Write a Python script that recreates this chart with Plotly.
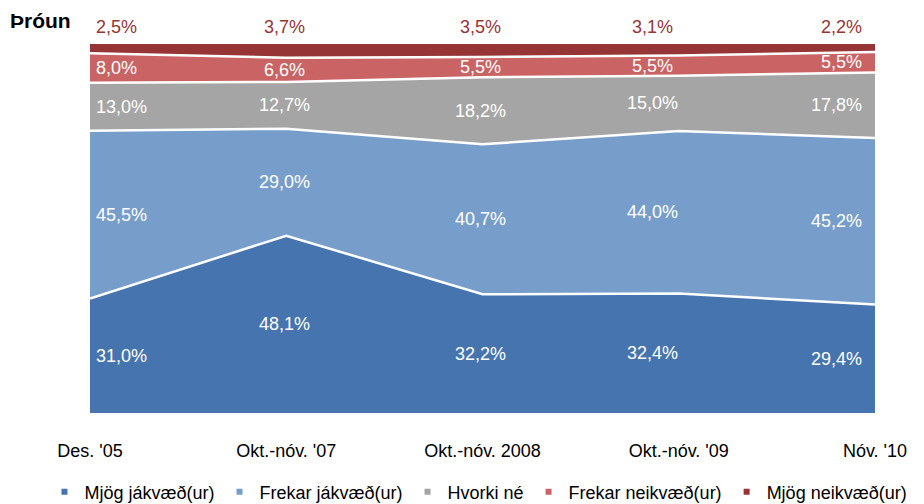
import plotly.graph_objects as go
import numpy as np

categories = ["Des. '05", "Okt.-nóv. '07", "Okt.-nóv. 2008", "Okt.-nóv. '09", "Nóv. '10"]
series_names = ["Mjög jákvæð(ur)", "Frekar jákvæð(ur)", "Hvorki né", "Frekar neikvæð(ur)", "Mjög neikvæð(ur)"]
mjog_jakv = [31.0, 48.1, 32.2, 32.4, 29.4]
frekar_jakv = [45.5, 29.0, 40.7, 44.0, 45.2]
hvorki = [13.0, 12.7, 18.2, 15.0, 17.8]
frekar_neikv = [8.0, 6.6, 5.5, 5.5, 5.5]
mjog_neikv = [2.5, 3.7, 3.5, 3.1, 2.2]

colors = ["#4674AE", "#779ECB", "#A5A5A5", "#C96364", "#963536"]
series = [mjog_jakv, frekar_jakv, hvorki, frekar_neikv, mjog_neikv]

FONT = "Liberation Sans, Arial, sans-serif"
x = list(range(len(categories)))

fig = go.Figure()
for i, (name, vals, col) in enumerate(zip(series_names, series, colors)):
    last = i == len(series) - 1
    fig.add_trace(go.Scatter(
        x=x, y=vals, name=name, stackgroup="one", groupnorm="percent",
        mode="lines", fillcolor=col,
        line=dict(color=col if last else "white", width=0 if last else 2.5),
        showlegend=False, hoverinfo="skip",
    ))
# legend entries with small square markers
for name, col in zip(series_names, colors):
    fig.add_trace(go.Scatter(
        x=[None], y=[None], mode="markers", name=name,
        marker=dict(symbol="square", size=6, color=col),
        showlegend=True,
    ))

# labels at band centres
arr = np.array(series, dtype=float)
arr = arr / arr.sum(axis=0) * 100
cum = np.cumsum(arr, axis=0)
col_anchor = ["left", "center", "center", "center", "right"]
col_shift = [4, -2, -2, -26, -11]
for i in range(len(series)):
    for j in range(len(categories)):
        lo = cum[i - 1, j] if i > 0 else 0.0
        hi = cum[i, j]
        txt = f"{series[i][j]:.1f}".replace(".", ",") + "%"
        if i == len(series) - 1:
            fig.add_annotation(x=x[j], y=100, text=txt, showarrow=False,
                               xanchor=col_anchor[j], xshift=col_shift[j],
                               yanchor="bottom", yshift=5,
                               font=dict(family=FONT, size=18, color="#963536"))
        else:
            fig.add_annotation(x=x[j], y=(lo + hi) / 2, text=txt, showarrow=False,
                               xanchor=col_anchor[j], xshift=col_shift[j],
                               yanchor="middle",
                               font=dict(family=FONT, size=18, color="white"))

fig.add_annotation(xref="paper", yref="paper", x=-0.104, y=1.0, xanchor="left", yanchor="bottom",
                   yshift=10, text="<b>Þróun</b>", showarrow=False,
                   font=dict(family=FONT, size=21, color="black"))

fig.update_layout(
    width=924, height=504,
    margin=dict(l=90, r=49, t=44, b=91, autoexpand=False),
    plot_bgcolor="white", paper_bgcolor="white",
    font=dict(family=FONT, size=18, color="black"),
    xaxis=dict(range=[0, 4], tickvals=x, ticktext=categories, showgrid=False,
               zeroline=False, showline=False, ticks="", ticklabelstandoff=25,
               automargin=False,
               tickfont=dict(family=FONT, size=18, color="black")),
    yaxis=dict(range=[0, 100], visible=False, automargin=False),
    legend=dict(orientation="h", x=-0.058, xanchor="left",
                y=-0.214, yanchor="middle", traceorder="normal",
                font=dict(family=FONT, size=18, color="black"),
                itemwidth=30, tracegroupgap=0),
    showlegend=True,
)

fig.write_html("out.html", config={"displayModeBar": False},
               post_script="document.body.style.margin='0';document.body.style.padding='0';")
